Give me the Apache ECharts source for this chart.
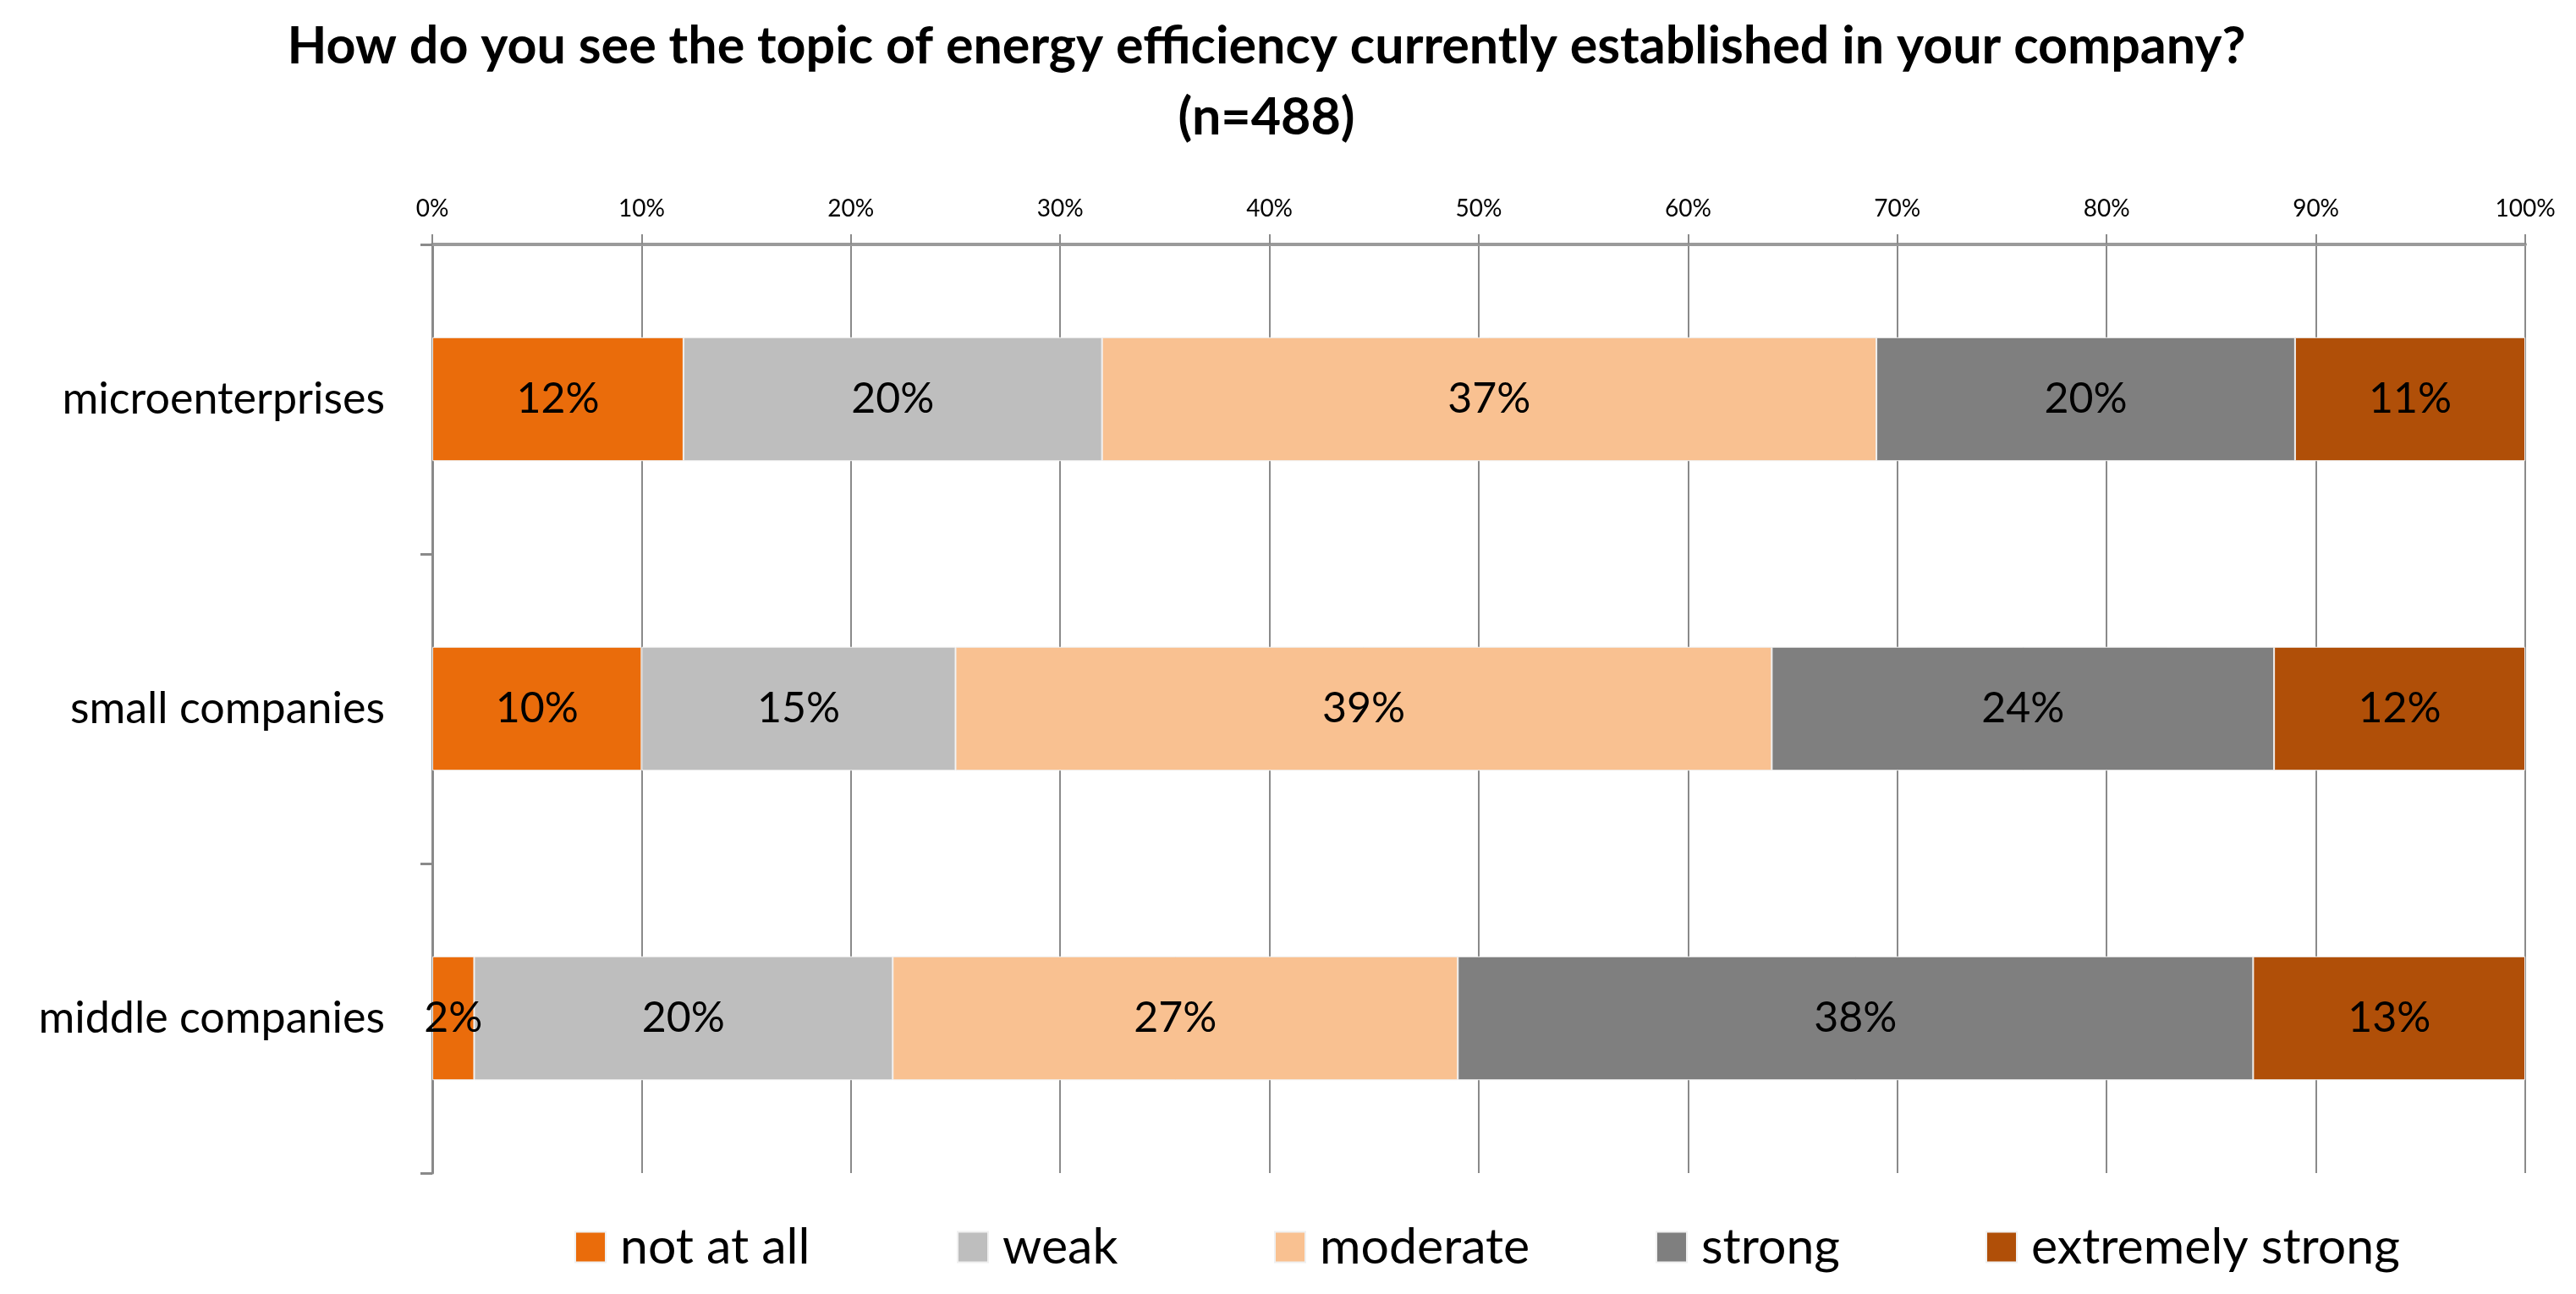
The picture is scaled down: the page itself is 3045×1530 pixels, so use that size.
<!DOCTYPE html>
<html>
<head>
<meta charset="utf-8">
<script src="https://cdn.jsdelivr.net/npm/echarts@6/dist/echarts.min.js"></script>
<style>
html,body{margin:0;padding:0;background:#fff;}
#chart{width:3045px;height:1530px;}
</style>
</head>
<body>
<div id="chart"></div>
<script>
const titleText = 'How do you see the topic of energy efficiency currently established in your company?\n(n=488)';
const categories = ['microenterprises', 'small companies', 'middle companies'];
const seriesNames = ['not at all', 'weak', 'moderate', 'strong', 'extremely strong'];
const notAtAll = [12, 10, 2];
const weak = [20, 15, 20];
const moderate = [37, 39, 27];
const strong = [20, 24, 38];
const extremelyStrong = [11, 12, 13];
const colors = ['#EA6C0B', '#BEBEBE', '#F9C191', '#7F7F7F', '#B04F08'];
const legendLefts = [674, 1126, 1501, 1952, 2342];

const values = [notAtAll, weak, moderate, strong, extremelyStrong];
const FONT = 'Lato';

const chart = echarts.init(document.getElementById('chart'));
chart.setOption({
  backgroundColor: '#fff',
  animation: false,
  title: {
    text: titleText,
    left: 1492,
    textAlign: 'center',
    top: 8,
    textStyle: { fontFamily: FONT, fontWeight: 'bold', fontSize: 61, lineHeight: 84, color: '#000' }
  },
  legend: seriesNames.map((n, i) => ({
    data: [n],
    left: legendLefts[i],
    top: 1440,
    itemWidth: 36,
    itemHeight: 36,
    icon: 'rect',
    textStyle: { fontFamily: FONT, fontSize: 59, color: '#000', padding: [0, 0, 0, 12] }
  })),
  grid: { left: 511, right: 60, top: 289, bottom: 143, containLabel: false },
  xAxis: {
    type: 'value',
    position: 'top',
    min: 0, max: 100, interval: 10,
    axisLabel: { formatter: '{value}%', fontFamily: FONT, fontSize: 28, color: '#000', margin: 28 },
    axisLine: { show: true, lineStyle: { color: '#9a9a9a', width: 4 } },
    axisTick: { show: true, length: 12, lineStyle: { color: '#8a8a8a', width: 2 } },
    splitLine: { show: true, lineStyle: { color: '#8a8a8a', width: 2 } }
  },
  yAxis: {
    type: 'category',
    inverse: true,
    data: categories,
    axisLabel: { fontFamily: FONT, fontSize: 52, color: '#000', margin: 56 },
    axisLine: { show: true, lineStyle: { color: '#8a8a8a', width: 3 } },
    axisTick: { show: true, length: 14, lineStyle: { color: '#8a8a8a', width: 3 } }
  },
  series: seriesNames.map((n, i) => ({
    name: n,
    type: 'bar',
    stack: 'total',
    barWidth: '40%',
    data: values[i],
    itemStyle: { color: colors[i], borderColor: '#f0f0f0', borderWidth: 1 },
    label: {
      show: true,
      position: 'inside',
      formatter: '{c}%',
      fontFamily: FONT,
      fontSize: 50,
      color: '#000'
    }
  }))
});
</script>
</body>
</html>
